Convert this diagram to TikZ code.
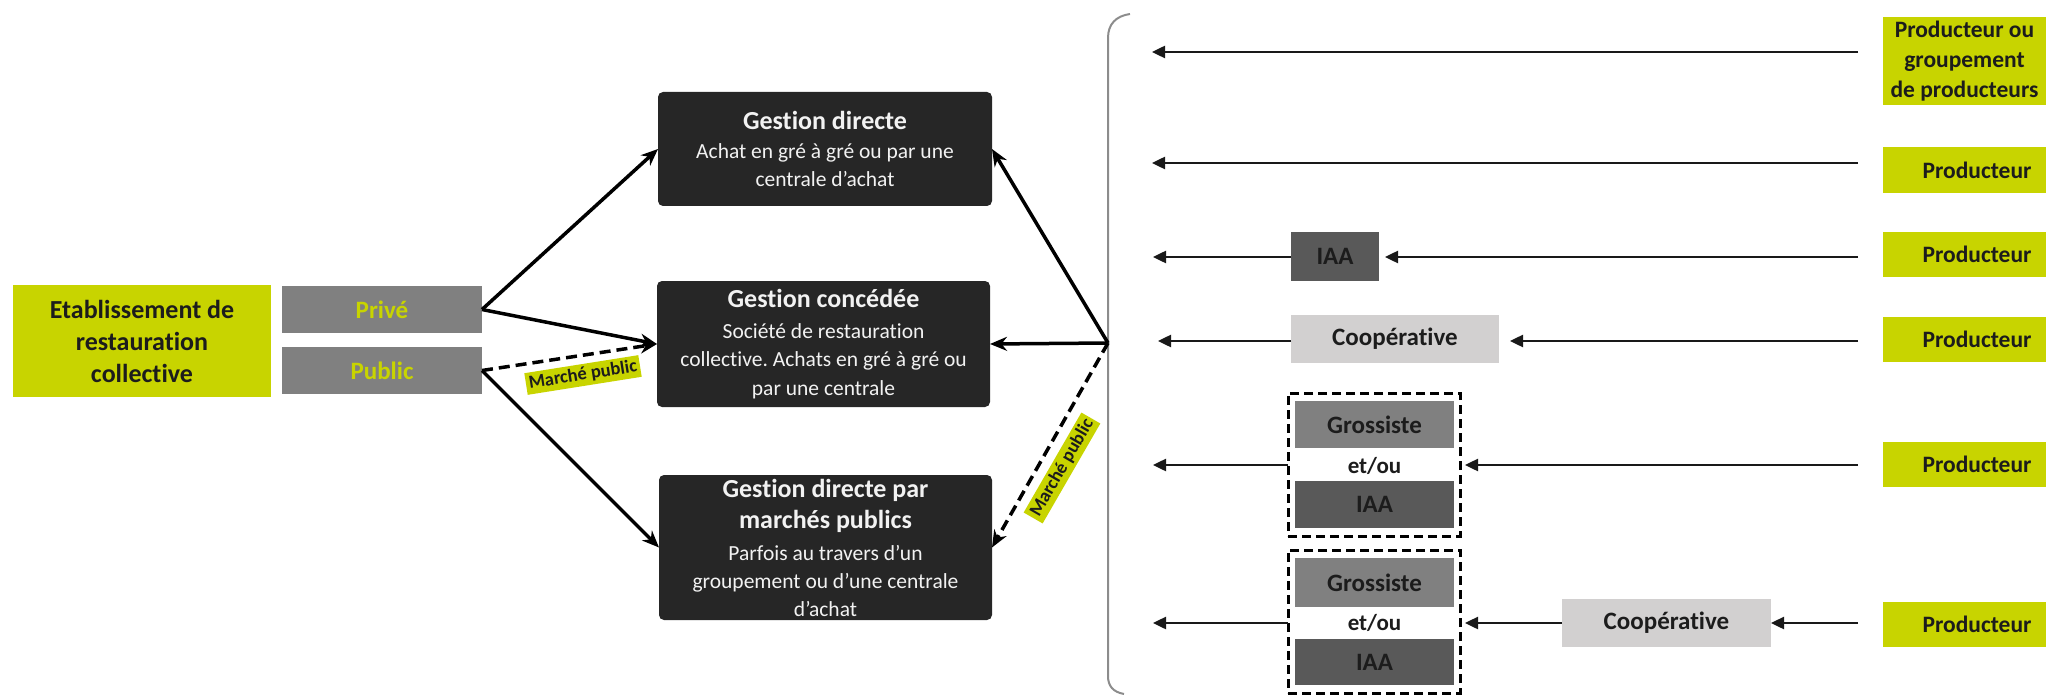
\documentclass[tikz,border=0pt]{standalone}
\usepackage{fontspec}
\setmainfont{Carlito}[Ligatures={NoCommon}]
\frenchspacing
\usetikzlibrary{arrows.meta}
\definecolor{ygreen}{RGB}{200,212,0}
\definecolor{darkbox}{RGB}{38,38,38}
\definecolor{midgray}{RGB}{128,128,128}
\definecolor{iaagray}{RGB}{89,89,89}
\definecolor{coopgray}{RGB}{210,208,208}
\definecolor{bracegray}{RGB}{140,140,140}
\definecolor{txtdark}{RGB}{28,28,28}
\definecolor{txtlight}{RGB}{242,242,242}
\begin{document}
\begin{tikzpicture}[x=1pt,y=-1pt,
  every node/.style={inner sep=0pt, outer sep=0pt},
  gbox/.style={rectangle, fill=darkbox, rounded corners=5pt, text=txtlight, align=center, font=\fontsize{21.5}{28}\selectfont},
  ybox/.style={rectangle, fill=ygreen, text=txtdark, align=center},
  pbox/.style={rectangle, fill=midgray, text=ygreen, font=\bfseries\fontsize{25}{30}\selectfont, minimum width=200pt, minimum height=47pt},
  prodbox/.style={ybox, font=\bfseries\fontsize{23.5}{30}\selectfont},
  midbox/.style={rectangle, text=txtdark, font=\bfseries\fontsize{25}{30}\selectfont},
  grpbox/.style={rectangle, draw=black, dashed, dash pattern=on 9pt off 5pt, line width=3pt, minimum width=172pt, minimum height=143pt},
  mplabel/.style={rectangle, fill=ygreen, text=txtdark, font=\bfseries\fontsize{18.5}{22}\selectfont, inner xsep=3pt, inner ysep=3pt},
  larr/.style={line width=3.5pt, -{Stealth[length=17pt,width=14pt]}},
  ldash/.style={larr, dash pattern=on 11pt off 6pt},
  rarr/.style={line width=2.5pt, black!90, -{Triangle[length=13pt,width=12pt]}}
]
\useasboundingbox (0,0) rectangle (2046,695);

% left part
\node[ybox, font=\bfseries\fontsize{26}{32}\selectfont, minimum width=258pt, minimum height=112pt] (E) at (142,341) {Etablissement de\\restauration\\collective};
\node[pbox] (PR) at (382,309.5) {Privé};
\node[pbox] (PU) at (382,370.5) {Public};

\node[gbox, minimum width=334pt, minimum height=114pt] (GD) at (825,149)
  {{\bfseries\fontsize{26}{31}\selectfont Gestion directe}\\[1pt]Achat en gré à gré ou par une\\centrale d’achat};
\node[gbox, font=\fontsize{21.5}{28.5}\selectfont, minimum width=333pt, minimum height=126pt] (GC) at (823.5,344)
  {{\bfseries\fontsize{26}{31}\selectfont Gestion concédée}\\[2pt]Société de restauration\\collective. Achats en gré à gré ou\\par une centrale};
\node[gbox, minimum width=333pt, minimum height=145pt] (GM) at (825.5,547.5)
  {{\bfseries\fontsize{26}{31}\selectfont Gestion directe par}\\[3pt]{\bfseries\fontsize{26}{31}\selectfont marchés publics}\\[4pt]Parfois au travers d’un\\groupement ou d’une centrale\\d’achat};

\draw[larr] (PR.east) -- (GD.west);
\draw[larr] (PR.east) -- (GC.west);
\draw[ldash] (PU.east) -- (GC.west);
\draw[larr] (PU.east) -- (GM.west);

% bracket
\draw[bracegray, line width=2pt] (1130,14) .. controls (1116,16) and (1108,24) .. (1108,38) -- (1108,676) .. controls (1108,686) and (1113,692) .. (1124,694);
\coordinate (J) at (1108,343);
\draw[larr] (J) -- (GD.east);
\draw[larr] (J) -- (GC.east);
\draw[ldash] (J) -- (GM.east);

\node[mplabel, rotate=9] (L1) at (583,375) {Marché public};
\node[mplabel, rotate=60] (L2) at (1062,468) {Marché public};

% right column producers
\node[prodbox, minimum width=163pt, minimum height=88pt] (P1) at (1964.5,61) {Producteur ou\\groupement\\de producteurs};
\node[prodbox, minimum width=188pt, minimum height=46pt] (P2) at (1977,170) {Producteur};
\node[prodbox, minimum width=188pt, minimum height=45pt] (P3) at (1977,254.5) {Producteur};
\node[prodbox, minimum width=188pt, minimum height=45pt] (P4) at (1977,339.5) {Producteur};
\node[prodbox, minimum width=188pt, minimum height=45pt] (P5) at (1977,464.5) {Producteur};
\node[prodbox, minimum width=188pt, minimum height=45pt] (P6) at (1977,624) {Producteur};

% intermediaries
\node[midbox, fill=iaagray, minimum width=88pt, minimum height=49pt] (I3) at (1335,256.5) {IAA};
\node[midbox, fill=coopgray, minimum width=208pt, minimum height=48pt] (C4) at (1395,339) {Coopérative};

\node[grpbox] (G5) at (1374,464.5) {};
\node[midbox, fill=midgray, minimum width=159pt, minimum height=47pt] (G5a) at (1374.5,424.5) {Grossiste};
\node[midbox, font=\bfseries\fontsize{23}{28}\selectfont] (G5b) at (1374.5,466) {et/ou};
\node[midbox, fill=iaagray, minimum width=159pt, minimum height=47pt] (G5c) at (1374.5,504.5) {IAA};

\node[grpbox] (G6) at (1374,621.5) {};
\node[midbox, fill=midgray, minimum width=159pt, minimum height=49pt] (G6a) at (1374.5,582.5) {Grossiste};
\node[midbox, font=\bfseries\fontsize{23}{28}\selectfont] (G6b) at (1374.5,623) {et/ou};
\node[midbox, fill=iaagray, minimum width=159pt, minimum height=46pt] (G6c) at (1374.5,662) {IAA};

\node[midbox, fill=coopgray, minimum width=209pt, minimum height=48pt] (C6) at (1666.5,623) {Coopérative};

% arrow ends
\coordinate (T1) at (1152,52);
\coordinate (T2) at (1152,163);
\coordinate (T3) at (1153,257);
\coordinate (T4) at (1158,341);
\coordinate (T5) at (1153,465);
\coordinate (T6) at (1153,623);

\draw[rarr, shorten <=25pt] (P1.west |- T1) -- (T1);
\draw[rarr, shorten <=25pt] (P2.west |- T2) -- (T2);
\draw[rarr, shorten <=25pt, shorten >=6pt] (P3.west |- T3) -- (I3.east |- T3);
\draw[rarr] (I3.west |- T3) -- (T3);
\draw[rarr, shorten <=25pt, shorten >=11pt] (P4.west |- T4) -- (C4.east |- T4);
\draw[rarr] (C4.west |- T4) -- (T4);
\draw[rarr, shorten <=25pt, shorten >=5pt] (P5.west |- T5) -- (G5.east |- T5);
\draw[rarr] (G5.west |- T5) -- (T5);
\draw[rarr, shorten <=25pt] (P6.west |- T6) -- (C6.east |- T6);
\draw[rarr, shorten >=5pt] (C6.west |- T6) -- (G6.east |- T6);
\draw[rarr] (G6.west |- T6) -- (T6);
\end{tikzpicture}
\end{document}
